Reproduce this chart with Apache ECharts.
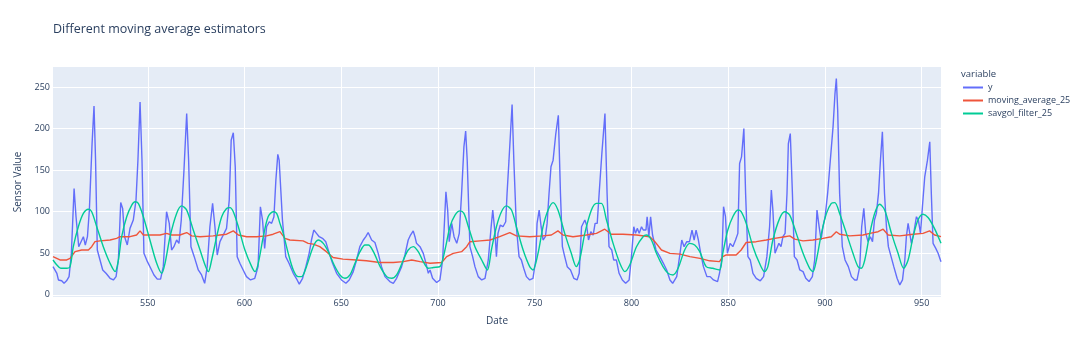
<!DOCTYPE html>
<html>
<head>
<meta charset="utf-8">
<script src="https://cdn.jsdelivr.net/npm/echarts@6/dist/echarts.min.js"></script>
<style>
html,body{margin:0;padding:0;background:#fff;}
#chart{width:1080px;height:350px;}
</style>
</head>
<body>
<div id="chart"></div>
<script>
// ---- data ----
const seriesNames = ['y', 'moving_average_25', 'savgol_filter_25'];

// raw sensor values (vertices)
const yDates = [501,503,503.8,505.5,506.7,508,509.3,510.5,511.9,512.9,514.3,515.5,516.7,517.7,518.8,519.8,521.2,522.2,523,523.9,525.3,526.7,528.4,530.5,532.2,533.6,534.8,536,537,538,539.4,540.8,542.5,543.9,544.9,546,547,548,549.8,551.5,553.2,554.9,556.6,558,559.7,561.1,562.3,563.5,564.9,566.1,567.3,568.7,570.1,571.1,572.3,574,576.1,577.8,579.4,580.7,582.1,583.5,584.7,585.9,587.3,589,590.7,592.1,593.1,594.2,595.2,596.2,597.6,599.3,601,603.1,605.3,607,608.2,609.3,610.4,611.4,612.8,614,615.2,616.2,617.2,617.9,619.6,621.3,623,625.2,627.2,628.3,630,631.7,633.4,634.6,635.8,637.2,638.6,640.3,642,643.8,645.5,647.6,650.1,652.4,654.1,656.2,657.9,659.6,661.4,662.7,663.9,665.7,667.4,669.1,670.8,672.6,675.1,676.9,678.6,681.2,682.9,684.6,685.8,687.2,688.1,688.9,690.7,692.4,693.8,695,695.9,697.2,699.3,701,702.4,704.1,705,705.8,707.1,708.3,709.7,711,712.2,713.4,714.3,715.1,716.5,717.9,719.1,720.8,722.6,724.3,726,727.4,728.3,729.5,730.2,731,732.2,733.6,735,735.7,736.7,738.3,739.2,740.5,741.9,743.1,744.3,745.7,747.4,749.1,750.5,751.2,752.3,753.3,754.3,755.5,756.4,757.4,758.4,759.5,760.9,762.2,763.3,764.3,765.5,766.8,768.5,770.2,771.9,773,774.2,775.9,776.8,777.8,779,780.2,781.2,782.3,783.3,784.7,786.3,787.4,788.4,789.8,790.8,792.2,793.6,795.3,797,798.8,800,801.2,802.1,803,804,805.2,806.1,807.5,808.1,809,809.9,810.9,812.7,814.7,816.5,818.2,819.9,821.3,823.4,825.1,826,827.2,828.6,830,831.3,832.4,833.4,834.6,835.8,837.2,839,840.7,842.4,844.5,845.5,846.7,847.6,848.6,849.6,851,852.4,853.8,855,855.9,856.9,858.1,859,860.2,861.4,862.8,864.5,866.6,868.3,870,871.4,872.3,873.1,874.2,875.2,876.2,877.3,878.3,879.4,880.4,881.1,882.1,883.2,884.2,885.6,887,888.7,890.1,891.8,893.5,894.7,895.9,897,898,899,900.1,901.4,902.8,904.2,905.2,905.9,906.6,907.6,909,910.4,912.1,913.7,915.4,916.6,918,919,920.1,921.1,922.3,923.5,924.6,925.6,926.6,927.7,928.7,929.7,930.8,931.8,932.8,934.2,935.6,937.3,938.7,940.1,941.3,942.1,943,943.9,944.7,945.9,947.3,948.3,949.4,950.4,951.6,953,954.2,955,955.9,957.3,958.5,960];
const yValues = [34,26,18,17,14,17,22,50,128,94,58,64,70,60,70,102,182,227,162,54,42,30,26,20,18,22,42,111,104,70,60,80,90,114,162,232,162,50,40,32,24,19,19,34,100,86,54,58,66,62,90,150,218,162,58,46,30,24,14,34,82,110,82,48,64,72,80,114,186,195,154,46,38,30,22,18,20,34,106,90,56,82,88,86,94,138,169,162,90,46,38,26,18,13,20,34,50,66,78,74,70,68,64,50,38,26,18,14,18,28,42,58,66,70,75,66,63,50,34,22,16,14,20,34,48,66,72,77,70,62,58,50,38,26,30,20,15,18,42,124,102,64,86,70,62,74,122,178,197,162,58,46,34,22,18,20,42,80,102,74,46,74,84,82,88,122,162,229,162,82,46,42,32,22,18,20,42,86,102,82,66,70,86,122,154,162,194,216,122,58,46,34,30,20,18,26,82,90,84,66,76,72,86,86,122,170,218,122,58,54,42,42,26,18,14,18,46,82,74,80,74,82,78,78,94,70,94,72,54,46,38,30,18,14,22,50,66,58,64,64,78,66,78,66,50,34,22,22,18,16,26,42,106,94,50,62,58,66,74,158,166,200,122,46,42,26,20,17,22,46,82,126,102,50,56,62,58,70,74,122,182,194,122,46,42,30,28,20,16,22,42,102,82,66,82,94,122,162,202,242,260,222,122,58,42,34,22,18,18,34,82,104,74,64,70,64,90,98,122,162,196,122,82,58,46,34,20,12,18,42,70,86,84,62,74,94,90,74,106,142,162,184,122,62,56,50,40];

// moving_average_25 (vertices)
const maDates = [501,504.6,508.1,509.8,512.4,515.8,519.3,521,522.7,525.3,530.5,533.9,535.6,540.8,544.2,546,547.7,551.1,556.3,559.7,562.3,566.6,570.1,572.7,577,583.8,587.3,590.7,594.2,596.8,601.1,606.2,611.4,614.8,618.3,620.9,623.4,630.3,632.9,635.5,638.9,642.3,645.8,650.9,657.9,663,669.9,676.9,682.1,686.4,690.7,695.9,701.9,704.5,707.9,712.2,714.8,716.5,721.7,726.9,731.9,737.1,740.5,747.4,754.3,758.6,762,764.6,769.8,776.7,781.9,786.2,789.6,795.6,802.6,809.5,812.1,815.5,819.9,825.1,830.2,835.4,840.4,845.5,847.2,849,854.1,856.7,859.3,864.5,869.7,874,879.2,881.8,884.4,888.7,893.8,899,903.3,905.9,907.6,912.8,919.7,923.2,927.5,930.1,932.7,938.7,945.6,950.7,954.1,956.7,960];
const maValues = [46,42,42,44,52,54,54,58,64,65,66,68,70,70,72,77,72,72,72,74,72,72,75,71,70,71,72,73,77,72,70,70,71,73,76,68,66,65,62,61,58,52,45,43,42,41,39,39,40,42,40,38,39,46,50,52,58,64,65,66,70,75,71,70,71,72,77,72,70,72,74,79,73,73,72,70,64,54,50,49,46,44,41,40,46,48,48,54,63,64,66,68,70,71,67,65,66,68,70,76,73,71,72,74,76,79,72,71,73,74,77,72,70];

// savgol_filter_25 (vertices)
const sgDates = [501,503,505,508,509.8,511.5,514.1,516.7,519.3,521,523.6,527,530.5,533.1,534.8,536.5,539.1,541.7,543.4,545.1,547.7,551.1,554.6,557.2,558.9,561.5,564.9,567.5,570.1,573.5,577,579.6,581.3,583,585.6,588.2,590.7,592.5,594.2,596.8,600.2,603.7,605.4,607.1,609.7,612.2,614.8,616.6,618.3,620,622.6,625.2,627.7,629.5,632,635.5,638.1,640.7,643.3,645.9,649.3,651.9,654.5,657.1,659.7,662.3,664,666.6,670.1,673.5,676.1,678.6,682.1,684.6,687.2,689.8,692.4,695,697.6,701,703.6,706.2,708.8,711.4,713.4,715.7,719.1,722.6,725.5,727.6,730.2,732.8,735.4,738,740.5,744,747.4,749.1,751.7,754.3,756.9,759.5,762,765.5,768.9,771.5,773.2,775.9,779.3,781.9,784.5,787.1,790.5,794,796.6,799.1,802.6,806,807.7,810.3,812.9,816.3,818.9,821.5,824.1,827.5,830.1,832.7,835.3,838.6,842,845.5,847.2,849.8,852.4,855,856.7,859.3,862.8,866.2,868.8,870.5,873.1,876.6,879.2,881.8,885.2,888.7,892.1,893.8,895.6,898.2,900.8,903.3,905.1,907.6,911.1,914.5,917.1,918.8,920.6,923.2,925.7,928.3,930.9,934.4,937.8,940.7,943,945.6,948.1,950.7,953.3,956.6,960];
const sgValues = [42,36,32,32,34,58,82,98,103,100,82,58,38,28,42,70,94,108,112,110,94,66,38,26,38,70,98,107,102,78,54,36,28,42,70,94,104,105,100,82,54,34,28,38,70,94,100,98,86,74,50,30,22,22,34,58,66,62,52,38,24,20,24,38,52,60,60,52,34,22,20,24,42,54,58,52,40,32,33,34,54,82,96,101,98,82,58,42,30,54,82,100,107,102,82,54,34,30,50,82,102,111,102,74,50,34,42,74,102,110,110,90,62,38,28,36,58,70,72,66,50,34,26,24,32,54,62,60,52,34,32,30,50,78,94,102,100,86,58,38,28,34,66,92,100,96,74,50,32,28,42,74,98,110,111,98,74,50,34,32,42,74,98,109,102,74,50,32,42,70,90,97,93,80,62];

const yTicks = [0, 50, 100, 150, 200, 250];
const xTicks = [550, 600, 650, 700, 750, 800, 850, 900, 950];

function zip(xs, vs) { return xs.map((x, i) => [x, vs[i]]); }

const FONT = '"Open Sans", "Noto Sans", sans-serif';
const TXT = '#2a3f5f';
const colors = ['#636efa', '#EF553B', '#00cc96'];

const chart = echarts.init(document.getElementById('chart'), null, {renderer: 'canvas'});
chart.setOption({
  animation: false,
  backgroundColor: '#ffffff',
  textStyle: {fontFamily: FONT},
  title: [
    {text: 'Different moving average estimators', left: 53, top: 23, padding: 0,
     textStyle: {fontFamily: FONT, fontSize: 12.5, fontWeight: 'normal', color: TXT}},
    {text: 'variable', left: 961, top: 69, padding: 0,
     textStyle: {fontFamily: FONT, fontSize: 9.5, fontWeight: 'normal', color: TXT}}
  ],
  legend: {
    data: seriesNames.map(n => ({name: n, icon: 'rect'})),
    orient: 'vertical',
    left: 963, top: 83, padding: 0,
    itemWidth: 20, itemHeight: 2, itemGap: 4,
    textStyle: {fontFamily: FONT, fontSize: 9, color: TXT},
    selectedMode: false
  },
  grid: {left: 53, right: 139, top: 67, bottom: 53, show: true,
         backgroundColor: '#E5ECF6', borderWidth: 0, containLabel: false},
  xAxis: {
    type: 'value', min: 501, max: 960,
    splitNumber: 9, minInterval: 50, maxInterval: 50,
    name: 'Date', nameLocation: 'middle', nameGap: 19,
    nameTextStyle: {fontFamily: FONT, fontSize: 10, color: TXT},
    axisLine: {show: false}, axisTick: {show: false},
    axisLabel: {fontFamily: FONT, fontSize: 9, color: TXT, margin: 2,
                showMinLabel: false, showMaxLabel: false,
                formatter: v => (xTicks.indexOf(v) >= 0 ? String(v) : '')},
    splitLine: {show: true, showMinLine: false, showMaxLine: false,
                lineStyle: {color: '#ffffff', width: 1}}
  },
  yAxis: {
    type: 'value', min: -2.5, max: 274,
    splitNumber: 5, minInterval: 50, maxInterval: 50,
    name: 'Sensor Value', nameLocation: 'middle', nameGap: 30,
    nameTextStyle: {fontFamily: FONT, fontSize: 10, color: TXT},
    axisLine: {show: false}, axisTick: {show: false},
    axisLabel: {fontFamily: FONT, fontSize: 9, color: TXT, margin: 3,
                showMinLabel: false, showMaxLabel: false,
                formatter: v => (yTicks.indexOf(v) >= 0 ? String(v) : '')},
    splitLine: {show: true, showMinLine: false, showMaxLine: false,
                lineStyle: {color: '#ffffff', width: 1}}
  },
  series: [
    {name: seriesNames[0], type: 'line', data: zip(yDates, yValues), symbol: 'none',
     lineStyle: {width: 1.4, color: colors[0]}, itemStyle: {color: colors[0]}},
    {name: seriesNames[1], type: 'line', data: zip(maDates, maValues), symbol: 'none',
     lineStyle: {width: 1.4, color: colors[1]}, itemStyle: {color: colors[1]}},
    {name: seriesNames[2], type: 'line', data: zip(sgDates, sgValues), symbol: 'none', smooth: 0.3,
     lineStyle: {width: 1.4, color: colors[2]}, itemStyle: {color: colors[2]}}
  ]
});
</script>
</body>
</html>
